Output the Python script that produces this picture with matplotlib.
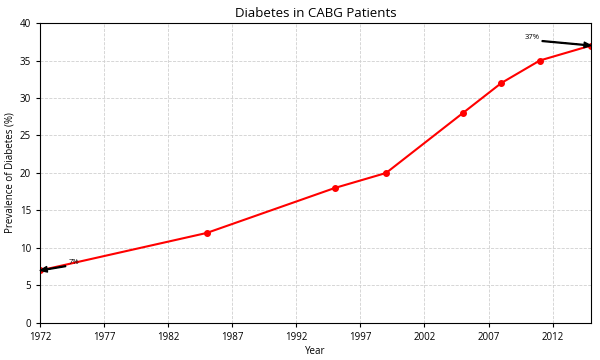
import matplotlib
matplotlib.use("Agg")
import matplotlib.pyplot as plt

years = [1972, 1985, 1995, 1999, 2005, 2008, 2011, 2015]
prevalence = [7, 12, 18, 20, 28, 32, 35, 37]
xticks = list(range(1972, 2016, 5))
yticks = list(range(0, 41, 5))

plt.rcParams['font.family'] = ['Open Sans', 'DejaVu Sans']

fig, ax = plt.subplots(figsize=(6, 3.6), dpi=100)
fig.subplots_adjust(left=0.067, right=0.985, top=0.936, bottom=0.103)
ax.plot(years, prevalence, color='red', marker='o', markersize=4, linewidth=1.5)
ax.set_xlim(1972, 2015)
ax.set_ylim(0, 40)
ax.set_xticks(xticks)
ax.set_yticks(yticks)
ax.tick_params(labelsize=7, length=3)
ax.grid(True, linestyle='--', color='#d0d0d0', linewidth=0.6)
ax.set_title('Diabetes in CABG Patients', fontsize=9.5, pad=4)
ax.set_xlabel('Year', fontsize=7, labelpad=2)
ax.set_ylabel('Prevalence of Diabetes (%)', fontsize=7, labelpad=3)

ax.annotate('7%', xy=(years[0], prevalence[0]), xytext=(1974.2, 7.9), fontsize=5.5,
            arrowprops=dict(facecolor='black', width=0.6, headwidth=4, headlength=5, shrink=0.0))
ax.annotate('37%', xy=(years[-1], prevalence[-1]), xytext=(2009.8, 37.9), fontsize=5.5,
            arrowprops=dict(facecolor='black', width=0.6, headwidth=4, headlength=5, shrink=0.0))

fig.savefig('out.png', dpi=100)
